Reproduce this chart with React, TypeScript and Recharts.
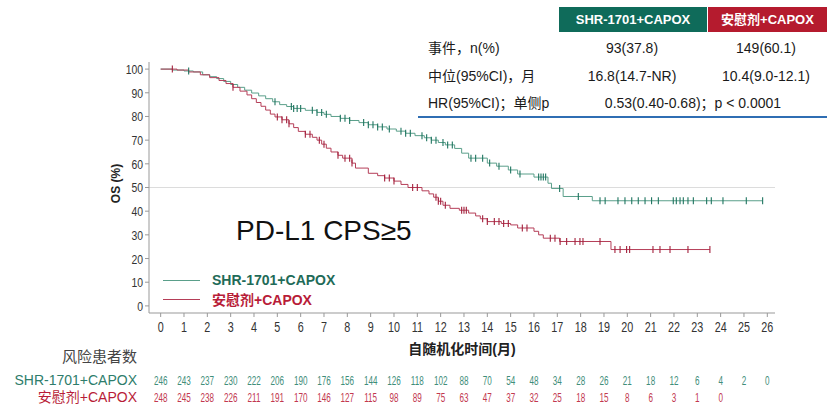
import React from 'react';
import { ComposedChart, Line, Scatter, XAxis, YAxis, ReferenceLine, Legend } from 'recharts';

// Axis ticks
const monthTicks = [0, 1, 2, 3, 4, 5, 6, 7, 8, 9, 10, 11, 12, 13, 14, 15, 16, 17, 18, 19, 20, 21, 22, 23, 24, 25, 26];
const osTicks = [0, 10, 20, 30, 40, 50, 60, 70, 80, 90, 100];

// Kaplan-Meier steps: SHR-1701 + CAPOX (time in months, OS %)
const shrStepTimes = [0, 0.5, 1.0, 1.4, 1.8, 2.1, 2.4, 2.7, 3.0, 3.3, 3.6, 3.9, 4.2, 4.5, 4.8, 5.1, 5.4, 5.7, 6.2, 6.7, 7.0, 7.3, 7.7, 8.1, 8.5, 8.9, 9.3, 9.7, 10.1, 10.5, 10.9, 11.3, 11.6, 11.9, 12.2, 12.6, 12.9, 13.2, 14.0, 14.4, 14.9, 15.3, 16.0, 16.6, 16.75, 17.25, 18.5, 25.8];
const shrStepSurv = [100, 99.6, 99.2, 98.8, 97.6, 96.8, 96, 94.8, 93.5, 92.3, 91.1, 89.9, 88.7, 87.5, 86.2, 85, 84.2, 83.4, 82.6, 81.7, 80.9, 80, 79.2, 78.3, 77.4, 76.5, 75.6, 74.7, 73.8, 72.9, 71.9, 71, 70, 69, 68, 66.5, 64.5, 62.4, 60.3, 59, 57.4, 55.7, 54.4, 51.8, 49.6, 46.2, 44.4, 44.4];

// Kaplan-Meier steps: placebo + CAPOX
const pboStepTimes = [0, 0.7, 1.2, 1.7, 2.1, 2.5, 2.8, 3.1, 3.4, 3.7, 3.9, 4.1, 4.3, 4.5, 4.7, 4.9, 5.2, 5.5, 5.7, 5.9, 6.2, 6.5, 6.7, 6.9, 7.1, 7.3, 7.6, 7.8, 8.2, 8.35, 8.9, 9.3, 9.6, 10.0, 10.3, 10.6, 11.2, 11.5, 11.7, 11.9, 12.1, 12.4, 12.8, 13.2, 13.5, 13.7, 14.0, 14.6, 15.0, 15.3, 16.0, 16.2, 16.4, 17.1, 19.3, 23.54];
const pboStepSurv = [100, 99.6, 98.8, 97.6, 96.4, 95.2, 93.9, 92.3, 90.7, 89.1, 87.5, 85.9, 84.3, 82.7, 81.0, 79.8, 78.6, 76.9, 75.3, 73.7, 72.5, 71.2, 70, 68.3, 66.6, 65, 63.6, 62.4, 60.3, 58.2, 56, 55, 54, 52.7, 51.3, 50, 48.6, 47.3, 45.9, 44.2, 42.5, 41.2, 40.4, 39.2, 38, 36.8, 35.6, 34.8, 34.2, 32.9, 31.5, 30, 28.6, 27.2, 23.8, 23.8];

// Censoring times (months)
const shrCensorTimes = [1.2, 4.9, 5.6, 5.7, 5.85, 6.0, 6.5, 6.7, 6.9, 7.1, 7.7, 7.9, 8.1, 8.7, 8.9, 9.1, 9.3, 9.5, 9.8, 10.3, 10.5, 10.7, 11.2, 11.4, 11.6, 11.8, 12.1, 12.3, 12.5, 13.3, 13.5, 13.8, 14.1, 14.5, 15.0, 15.4, 16.2, 16.3, 16.4, 16.5, 17.1, 17.9, 18.83, 19.05, 19.6, 19.9, 20.19, 20.47, 20.76, 21.04, 21.33, 21.97, 22.1, 22.26, 22.4, 22.6, 22.83, 23.4, 23.6, 24.1, 25.1, 25.8];
const pboCensorTimes = [0.5, 3.1, 5.0, 5.2, 5.4, 5.5, 6.2, 6.4, 6.8, 7.0, 7.6, 7.9, 8.1, 8.2, 9.6, 9.8, 10.0, 10.8, 11.0, 11.8, 11.9, 12.0, 12.2, 12.9, 13.0, 13.1, 13.8, 14.0, 14.3, 14.5, 14.7, 14.9, 15.5, 15.7, 16.7, 16.9, 17.12, 17.4, 17.76, 17.97, 18.1, 18.83, 19.47, 19.69, 19.97, 20.1, 21.1, 21.4, 21.83, 22.6, 23.54];

// Number at risk per month
const shrAtRisk = [246, 243, 237, 230, 222, 206, 190, 176, 156, 144, 126, 118, 102, 88, 70, 54, 48, 34, 28, 26, 21, 18, 12, 6, 4, 2, 0];
const pboAtRisk = [248, 245, 238, 226, 211, 191, 170, 146, 127, 115, 98, 89, 75, 63, 47, 37, 32, 25, 18, 15, 8, 6, 3, 1, 0];

const SHR_NAME = 'SHR-1701+CAPOX';
const PBO_NAME = '安慰剂+CAPOX';

const GREEN_LINE = '#5a9f8a';
const GREEN_MARK = '#1f7560';
const GREEN_TEXT = '#1f6b58';
const GREEN_RISK = '#3f8e7a';
const RED_LINE = '#b53e58';
const RED_MARK = '#a3203c';
const RED_TEXT = '#b81c38';
const RED_RISK = '#c2384f';

const SANS = '"Liberation Sans", Arial, "Noto Sans CJK SC", sans-serif';

type Pt = { t: number; s: number };

const toSteps = (times: number[], surv: number[]): Pt[] => times.map((t, i) => ({ t, s: surv[i] }));

const survivalAt = (times: number[], surv: number[], t: number): number => {
  let s = surv[0];
  for (let i = 0; i < times.length; i++) {
    if (times[i] <= t) s = surv[i];
  }
  return s;
};

const toCensors = (censor: number[], times: number[], surv: number[]): Pt[] =>
  censor.map((t) => ({ t, s: survivalAt(times, surv, t) }));

const shrSteps = toSteps(shrStepTimes, shrStepSurv);
const pboSteps = toSteps(pboStepTimes, pboStepSurv);
const shrCensors = toCensors(shrCensorTimes, shrStepTimes, shrStepSurv);
const pboCensors = toCensors(pboCensorTimes, pboStepTimes, pboStepSurv);

const censorTick = (color: string) => (props: any) => {
  const { cx, cy } = props;
  return <line x1={cx} x2={cx} y1={cy - 3.5} y2={cy + 3.5} stroke={color} strokeWidth={1.1} />;
};

// Horizontally condensed numeric label
const Condensed = ({ x, y, sx, size, fill, anchor = 'middle', children }: any) => (
  <text
    transform={`translate(${x}, ${y}) scale(${sx}, 1)`}
    x={0}
    y={0}
    textAnchor={anchor}
    dominantBaseline="central"
    fontFamily={SANS}
    fontSize={size}
    fill={fill}
  >
    {children}
  </text>
);

// Month tick with the number-at-risk rows beneath it
const MonthTick = (props: any) => {
  const { x, y, payload } = props;
  const m = payload.value as number;
  const g = shrAtRisk[m];
  const r = pboAtRisk[m];
  return (
    <g>
      <Condensed x={x} y={y + 11} sx={0.77} size={14} fill="#333">{m}</Condensed>
      {g !== undefined && <Condensed x={x} y={y + 63} sx={0.65} size={12.5} fill={GREEN_RISK}>{g}</Condensed>}
      {r !== undefined && <Condensed x={x} y={y + 80} sx={0.65} size={12.5} fill={RED_RISK}>{r}</Condensed>}
    </g>
  );
};

const OsTick = (props: any) => {
  const { x, y, payload } = props;
  return <Condensed x={x} y={y} sx={0.8} size={13} fill="#333" anchor="end">{payload.value}</Condensed>;
};

const legendItems = [
  { name: SHR_NAME, line: GREEN_LINE, text: GREEN_TEXT },
  { name: PBO_NAME, line: RED_LINE, text: RED_TEXT },
];

const renderLegend = () => (
  <div style={{ fontFamily: SANS }}>
    {legendItems.map((it) => (
      <div key={it.name} style={{ display: 'flex', alignItems: 'center', height: 18.7 }}>
        <span style={{ display: 'inline-block', width: 37, height: 0, borderTop: `1px solid ${it.line}`, marginRight: 12 }} />
        <span style={{ color: it.text, fontWeight: 700, fontSize: 14, whiteSpace: 'nowrap' }}>{it.name}</span>
      </div>
    ))}
  </div>
);

const abs = (left: number, top: number, extra: React.CSSProperties = {}): React.CSSProperties => ({
  position: 'absolute',
  left,
  top,
  whiteSpace: 'nowrap',
  ...extra,
});

const rowStyle = (top: number, extra: React.CSSProperties = {}): React.CSSProperties =>
  abs(0, top - 9, { fontSize: 14, lineHeight: '18px', color: '#1a1a1a', ...extra });

export default function App() {
  return (
    <div style={{ position: 'absolute', left: 0, top: 0, width: 827, height: 411, background: '#fff', fontFamily: SANS, overflow: 'hidden' }}>
      <ComposedChart width={827} height={411} margin={{ top: 62, right: 52, bottom: 68, left: 109 }}>
        <XAxis
          type="number"
          dataKey="t"
          domain={[-0.5, 26.33]}
          ticks={monthTicks}
          interval={0}
          height={30}
          tickSize={4}
          tickMargin={0}
          stroke="#999"
          tick={<MonthTick />}
          label={{ value: '自随机化时间(月)', position: 'bottom', offset: 1, fontSize: 14, fontWeight: 700, fill: '#222', fontFamily: SANS }}
        />
        <YAxis
          type="number"
          dataKey="s"
          domain={[-3, 103]}
          ticks={osTicks}
          interval={0}
          width={40}
          tickSize={4}
          tickMargin={2}
          stroke="#999"
          tick={<OsTick />}
          label={{
            content: (p: any) => {
              const vb = p.viewBox;
              const cx = vb.x + 7;
              const cy = vb.y + vb.height / 2 - 4;
              return (
                <text x={cx} y={cy} transform={`rotate(-90, ${cx}, ${cy})`} textAnchor="middle" dominantBaseline="central" fontSize={12} fontWeight={700} fill="#222" fontFamily={SANS}>
                  OS (%)
                </text>
              );
            },
          }}
        />
        <ReferenceLine y={50} stroke="#dcdcdc" strokeWidth={1} />
        <Line name={SHR_NAME} data={shrSteps} dataKey="s" type="stepAfter" stroke={GREEN_LINE} strokeWidth={1} dot={false} isAnimationActive={false} />
        <Line name={PBO_NAME} data={pboSteps} dataKey="s" type="stepAfter" stroke={RED_LINE} strokeWidth={1} dot={false} isAnimationActive={false} />
        <Scatter data={shrCensors} dataKey="s" shape={censorTick(GREEN_MARK)} legendType="none" isAnimationActive={false} />
        <Scatter data={pboCensors} dataKey="s" shape={censorTick(RED_MARK)} legendType="none" isAnimationActive={false} />
        <Legend layout="vertical" align="center" verticalAlign="middle" wrapperStyle={{ left: 163, top: 271, width: 220 }} content={renderLegend} />
      </ComposedChart>

      {/* Summary table */}
      <div style={abs(559, 7, { width: 148, height: 25, background: '#0f6b5a', color: '#fff', fontWeight: 700, fontSize: 13, lineHeight: '25px', textAlign: 'center' })}>
        {SHR_NAME}
      </div>
      <div style={abs(708, 7, { width: 119, height: 25, background: '#b51b2e', color: '#fff', fontWeight: 700, fontSize: 13, lineHeight: '25px', textAlign: 'center' })}>
        {PBO_NAME}
      </div>

      <div style={rowStyle(47.5, { left: 428 })}>事件，n(%)</div>
      <div style={rowStyle(47.5, { left: 572, width: 120, textAlign: 'center' })}>93(37.8)</div>
      <div style={rowStyle(47.5, { left: 706, width: 120, textAlign: 'center' })}>149(60.1)</div>

      <div style={rowStyle(75.5, { left: 428 })}>中位(95%CI)，月</div>
      <div style={rowStyle(75.5, { left: 572, width: 120, textAlign: 'center' })}>16.8(14.7-NR)</div>
      <div style={rowStyle(75.5, { left: 706, width: 120, textAlign: 'center' })}>10.4(9.0-12.1)</div>

      <div style={rowStyle(102.5, { left: 428 })}>HR(95%CI)；单侧p</div>
      <div style={rowStyle(102.5, { left: 593, width: 200, textAlign: 'center' })}>0.53(0.40-0.68)；p &lt; 0.0001</div>

      <div style={abs(418, 116, { width: 409, height: 2, background: '#2f6eb3' })} />

      {/* Subgroup label */}
      <div style={abs(236, 217, { fontSize: 28, lineHeight: '28px', color: '#111' })}>PD-L1 CPS≥5</div>

      {/* Number-at-risk row labels */}
      <div style={abs(0, 348, { width: 137, textAlign: 'right', fontSize: 15, lineHeight: '18px', color: '#444' })}>风险患者数</div>
      <div style={abs(0, 371, { width: 137, textAlign: 'right', fontSize: 14, lineHeight: '18px', color: '#2e7d6b' })}>{SHR_NAME}</div>
      <div style={abs(0, 388, { width: 137, textAlign: 'right', fontSize: 14, lineHeight: '18px', color: RED_TEXT })}>{PBO_NAME}</div>
    </div>
  );
}
